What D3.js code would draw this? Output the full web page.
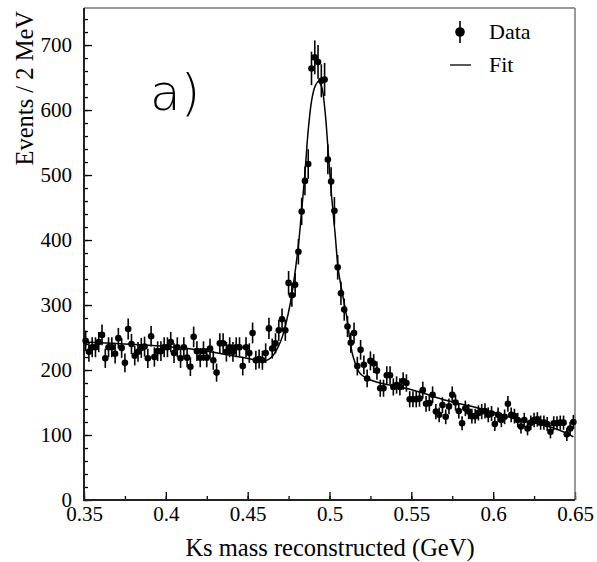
<!DOCTYPE html>
<html>
<head>
<meta charset="utf-8">
<script src="https://cdn.jsdelivr.net/npm/d3@7"></script>
<style>
  body { margin: 0; background: #fff; }
  text { font-family: "Liberation Serif", "Times New Roman", serif; fill: #000; }
</style>
</head>
<body>
<div id="chart"></div>
<script>
// Histogram: Ks mass, 2 MeV bins from 0.35 to 0.65 GeV
const binStart = 0.35;
const binWidth = 0.002;
const counts = [
  245, 228, 235, 235, 243, 254, 218, 235, 235, 225,
  249, 234, 211, 263, 240, 222, 228, 234, 236, 218,
  252, 220, 229, 229, 235, 235, 243, 226, 235, 218,
  235, 219, 205, 251, 229, 219, 229, 219, 233, 215,
  196, 241, 241, 228, 235, 228, 235, 235, 206, 235,
  226, 257, 215, 217, 215, 226, 264, 233, 241, 261,
  278, 261, 334, 315, 331, 382, 444, 491, 517, 664,
  681, 674, 645, 647, 524, 490, 445, 358, 318, 293,
  267, 242, 257, 206, 231, 208, 187, 214, 210, 199,
  172, 172, 192, 192, 174, 177, 174, 183, 180, 155,
  155, 155, 156, 169, 148, 149, 162, 136, 131, 146,
  128, 144, 162, 150, 137, 118, 141, 136, 129, 129,
  134, 136, 137, 131, 133, 117, 131, 123, 128, 148,
  131, 129, 123, 113, 123, 110, 119, 123, 124, 119,
  119, 117, 105, 118, 118, 119, 119, 101, 110, 120
];

// Fit curve
const fitX = [0.351, 0.400, 0.425, 0.4496, 0.4555, 0.4606, 0.4647, 0.4687, 0.4718,
  0.4748, 0.4769, 0.4809, 0.4830, 0.4850, 0.4870, 0.4891, 0.4911, 0.4932, 0.4952,
  0.4972, 0.4993, 0.5013, 0.5034, 0.5054, 0.5075, 0.5105, 0.5125, 0.5145, 0.5186,
  0.5247, 0.5309, 0.5512, 0.5716, 0.5919, 0.6123, 0.6327, 0.6449, 0.649];
const fitY = [243, 236, 229, 218, 215, 214, 220, 236, 256,
  287, 315, 390, 446, 503, 569, 615, 636, 644, 636,
  600, 533, 467, 410, 354, 323, 282, 246, 220, 195,
  185, 180, 169, 153, 141, 126, 114, 103, 97];

const xTickValues = [0.35, 0.4, 0.45, 0.5, 0.55, 0.6, 0.65];
const xTickLabels = ["0.35", "0.4", "0.45", "0.5", "0.55", "0.6", "0.65"];
const yTickValues = [0, 100, 200, 300, 400, 500, 600, 700];

const width = 597, height = 562;
const mLeft = 84, mRight = 575, mTop = 8, mBottom = 500;
const serif = "'Liberation Serif', 'Times New Roman', serif";

const svg = d3.select("#chart").append("svg")
    .attr("width", width)
    .attr("height", height);

const x = d3.scaleLinear().domain([0.35, 0.65]).range([mLeft, mRight]);
const y = d3.scaleLinear().domain([0, 757]).range([mBottom, mTop]);

// minor ticks
svg.append("g")
    .attr("transform", `translate(${mLeft},0)`)
    .call(d3.axisLeft(y).tickValues(d3.range(0, 757, 20)).tickSize(-4).tickFormat(""))
    .call(g => g.select(".domain").remove());
svg.append("g")
    .attr("transform", `translate(0,${mBottom})`)
    .call(d3.axisBottom(x).tickValues(d3.range(0.35, 0.651, 0.025)).tickSize(-4).tickFormat(""))
    .call(g => g.select(".domain").remove());

// major ticks with labels
const yAxis = svg.append("g")
    .attr("transform", `translate(${mLeft},0)`)
    .call(d3.axisLeft(y).tickValues(yTickValues).tickSize(-8).tickPadding(12))
    .call(g => g.select(".domain").remove());
yAxis.attr("font-family", null);
yAxis.selectAll("text").style("font-family", serif).style("font-size", "21px");

const xAxis = svg.append("g")
    .attr("transform", `translate(0,${mBottom})`)
    .call(d3.axisBottom(x).tickValues(xTickValues).tickSize(-8).tickPadding(6)
        .tickFormat((d, i) => xTickLabels[i]))
    .call(g => g.select(".domain").remove());
xAxis.attr("font-family", null);
xAxis.selectAll("text").style("font-family", serif).style("font-size", "21px");

svg.selectAll(".tick line").attr("stroke", "#000").attr("stroke-width", 1.3);

// frame
svg.append("line").attr("x1", mLeft).attr("x2", mRight).attr("y1", mTop).attr("y2", mTop)
    .attr("stroke", "#777").attr("stroke-width", 1.5);
svg.append("line").attr("x1", mRight).attr("x2", mRight).attr("y1", mTop).attr("y2", mBottom)
    .attr("stroke", "#777").attr("stroke-width", 1.5);
svg.append("line").attr("x1", mLeft).attr("x2", mLeft).attr("y1", mTop).attr("y2", mBottom + 1)
    .attr("stroke", "#222").attr("stroke-width", 2);
svg.append("line").attr("x1", mLeft - 1).attr("x2", mRight).attr("y1", mBottom).attr("y2", mBottom)
    .attr("stroke", "#222").attr("stroke-width", 2);

// fit curve
const fitData = fitX.map((d, i) => ({ x: d, y: fitY[i] }));
svg.append("path")
    .datum(fitData)
    .attr("fill", "none")
    .attr("stroke", "#000")
    .attr("stroke-width", 1.5)
    .attr("d", d3.line().x(d => x(d.x)).y(d => y(d.y)).curve(d3.curveCatmullRom));

// data points with error bars
const data = counts.map((c, i) => ({ x: binStart + binWidth * (i + 0.5), y: c, err: Math.sqrt(c) }));
const pts = svg.append("g").selectAll("g")
    .data(data)
    .enter().append("g");
pts.append("line")
    .attr("x1", d => x(d.x)).attr("x2", d => x(d.x))
    .attr("y1", d => y(d.y + d.err)).attr("y2", d => y(d.y - d.err))
    .attr("stroke", "#000").attr("stroke-width", 1.6);
pts.append("circle")
    .attr("cx", d => x(d.x)).attr("cy", d => y(d.y))
    .attr("r", 3.3).attr("fill", "#000");

// legend
svg.append("line").attr("x1", 460).attr("x2", 460).attr("y1", 21).attr("y2", 43)
    .attr("stroke", "#000").attr("stroke-width", 1.6);
svg.append("circle").attr("cx", 460).attr("cy", 32).attr("r", 4.8).attr("fill", "#000");
svg.append("text").attr("x", 489).attr("y", 39).attr("font-size", 22).text("Data");
svg.append("line").attr("x1", 450).attr("x2", 471).attr("y1", 65).attr("y2", 65)
    .attr("stroke", "#000").attr("stroke-width", 1.3);
svg.append("text").attr("x", 489).attr("y", 72).attr("font-size", 22).text("Fit");

// panel label
svg.append("text")
    .attr("x", 150).attr("y", 110)
    .attr("font-size", 50)
    .attr("font-weight", 200)
    .attr("style", "font-family: 'DejaVu Sans'")
    .text("a)");

// axis titles
svg.append("text")
    .attr("x", 330).attr("y", 556)
    .attr("text-anchor", "middle")
    .attr("font-size", 24.5)
    .text("Ks mass reconstructed (GeV)");

svg.append("text")
    .attr("transform", "translate(33,11) rotate(-90)")
    .attr("text-anchor", "end")
    .attr("font-size", 24.5)
    .text("Events / 2 MeV");
</script>
</body>
</html>
